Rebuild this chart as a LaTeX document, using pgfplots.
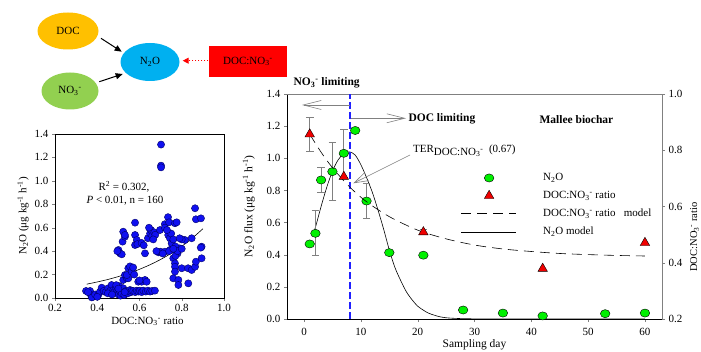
\documentclass[border=0pt]{standalone}
\usepackage{fontspec}
\setmainfont{Liberation Serif}
\usepackage{pgfplots}
\pgfplotsset{compat=1.18}
\usetikzlibrary{arrows.meta}
\definecolor{docc}{HTML}{FFC000}
\definecolor{noc}{HTML}{92D050}
\definecolor{ntoc}{HTML}{00B0F0}
\definecolor{mygreen}{HTML}{00F000}
\definecolor{myred}{HTML}{F00000}
\definecolor{myblue}{HTML}{1010F0}
\definecolor{dashblue}{HTML}{2020FF}
\newcommand{\nothree}{NO\textsubscript{3}\textsuperscript{-}}
\newcommand{\ntwoo}{N\textsubscript{2}O}
\pgfplotsset{
  /pgf/number format/assume math mode=true,
  markleg/.style={legend image code/.code={\path[draw=none] (0pt,0pt) -- (80pt,0pt); \path[##1, draw=none] (0pt,0pt); \pgfplotsset{##1}\draw[##1] plot[only marks] coordinates {(28pt,0pt)};}},
  lineleg/.style={legend image code/.code={\path[draw=none] (0pt,0pt) -- (80pt,0pt); \draw[##1] (0pt,0pt) -- (55pt,0pt);}},
  onedec/.style={/pgf/number format/.cd,fixed,fixed zerofill,precision=1},
}
\begin{document}
\begin{tikzpicture}[x=1pt,y=1pt,font=\fontsize{11}{13}\selectfont]
% ---------- diagram ----------
\fill[docc] (68,320) ellipse [x radius=30.5, y radius=18.5];
\node at (68,320) {DOC};
\fill[noc] (70,260) ellipse [x radius=28.5, y radius=18.5];
\node at (70,260) {\nothree};
\fill[ntoc] (150,289) ellipse [x radius=29.5, y radius=19];
\node at (150,289) {\ntwoo};
\fill[red] (209.3,273.7) rectangle (286.7,305.3);
\node at (248,289.5) {DOC:\nothree};
\draw[line width=1pt,-{Triangle[length=7pt,width=6pt]}] (101,312.7) -- (121.7,299.3);
\draw[line width=1pt,-{Triangle[length=7pt,width=6pt]}] (99.3,269.3) -- (122.7,277);
\draw[red, dotted, line width=1pt,-{Triangle[length=6pt,width=6pt]}] (208.3,290.3) -- (182.7,290.3);

% ---------- scatter ----------
\begin{axis}[at={(55pt,53pt)}, anchor=south west, scale only axis,
  width=169pt, height=164pt,
  xmin=0.2, xmax=1.0, ymin=0, ymax=1.4,
  xtick={0.2,0.4,0.6,0.8,1.0}, ytick={0,0.2,0.4,0.6,0.8,1.0,1.2,1.4},
  xticklabel style={onedec}, yticklabel style={onedec},
  tick align=outside, tick pos=left, major tick length=3pt,
  tick label style={font=\fontsize{11}{13}\selectfont},
  xlabel={DOC:\nothree\ ratio}, ylabel={\ntwoo\ (μg kg\textsuperscript{-1} h\textsuperscript{-1})},
  label style={font=\fontsize{11}{13}\selectfont},
  xlabel style={yshift=2pt, xshift=8pt}, ylabel style={yshift=-1pt},
  clip=false]
\addplot[only marks, mark=*, mark size=3.6pt, mark options={fill=myblue, draw=black!60!blue, line width=0.4pt}] coordinates {
(0.347,0.06)(0.366,0.06)(0.37,0.026)(0.38,0.011)(0.374,0.005)(0.356,0.05)(0.39,0.03)(0.405,0.026)
(0.413,0.054)(0.40,0.01)(0.421,0.088)(0.43,0.06)(0.44,0.05)(0.452,0.083)(0.46,0.06)(0.468,0.111)
(0.476,0.068)(0.48,0.05)(0.489,0.088)(0.495,0.062)(0.50,0.03)(0.505,0.10)(0.508,0.054)(0.51,0.02)
(0.516,0.04)(0.523,0.083)(0.528,0.026)(0.535,0.06)(0.54,0.054)(0.545,0.04)(0.555,0.068)(0.56,0.05)
(0.563,0.063)(0.57,0.06)(0.58,0.05)(0.587,0.063)(0.595,0.055)(0.602,0.063)(0.61,0.05)(0.618,0.063)
(0.63,0.055)(0.64,0.063)(0.65,0.055)(0.66,0.06)(0.673,0.063)(0.45,0.04)(0.47,0.03)(0.49,0.11)(0.53,0.05)(0.5,0.08)
(0.523,0.154)(0.531,0.196)(0.54,0.168)(0.547,0.254)(0.547,0.168)(0.54,0.196)(0.555,0.27)(0.563,0.225)
(0.57,0.26)(0.575,0.20)(0.594,0.139)(0.61,0.139)(0.626,0.154)(0.634,0.139)(0.60,0.15)
(0.50,0.41)(0.508,0.381)(0.516,0.373)(0.495,0.40)(0.52,0.481)(0.531,0.523)(0.523,0.566)(0.531,0.538)
(0.579,0.643)(0.579,0.538)(0.587,0.495)(0.579,0.452)(0.59,0.46)(0.626,0.381)(0.61,0.47)(0.62,0.45)
(0.64,0.51)(0.65,0.55)(0.655,0.58)(0.66,0.53)(0.67,0.56)(0.675,0.54)(0.645,0.60)(0.665,0.50)
(0.69,0.39)(0.70,0.395)(0.72,0.395)(0.744,0.41)(0.697,0.58)(0.735,0.69)
(0.72,0.63)(0.74,0.646)(0.768,0.638)(0.776,0.646)
(0.736,0.538)(0.744,0.51)(0.752,0.467)(0.776,0.395)(0.79,0.424)(0.815,0.495)
(0.76,0.339)(0.768,0.296)(0.768,0.267)(0.768,0.225)(0.76,0.168)(0.784,0.154)(0.784,0.111)(0.831,0.125)
(0.80,0.254)(0.83,0.254)(0.847,0.239)(0.863,0.267)(0.867,0.31)(0.894,0.339)(0.894,0.438)(0.89,0.43)(0.847,0.51)
(0.863,0.766)(0.867,0.672)(0.891,0.68)
(0.702,1.31)(0.702,1.13)(0.702,1.115)
(0.72,0.60)(0.75,0.55)(0.76,0.50)(0.77,0.44)(0.78,0.38)(0.80,0.50)(0.79,0.51)(0.74,0.40)(0.71,0.38)
(0.68,0.40)(0.73,0.58)(0.77,0.36)(0.78,0.40)(0.76,0.42)(0.8,0.42)
};
\addplot[black, line width=0.6pt, smooth] coordinates {
(0.35,0.118)(0.40,0.137)(0.45,0.158)(0.50,0.183)(0.55,0.212)(0.60,0.245)
(0.65,0.284)(0.70,0.329)(0.75,0.381)(0.80,0.441)(0.85,0.511)(0.90,0.591)};
\end{axis}
\node at (124,164) {R\textsuperscript{2} = 0.302,};
\node at (125,150) {\textit{P} < 0.01, n = 160};

% ---------- main axis (left) ----------
\begin{axis}[at={(287pt,32pt)}, anchor=south west, scale only axis,
  width=375pt, height=225pt,
  xmin=-3, xmax=63, ymin=0, ymax=1.4,
  axis x line*=bottom, axis y line*=left, axis line style={-},
  xtick={0,10,20,30,40,50,60}, ytick={0,0.2,0.4,0.6,0.8,1.0,1.2,1.4},
  yticklabel style={onedec}, xticklabel style={yshift=-3pt},
  tick align=outside, major tick length=3pt,
  tick label style={font=\fontsize{11}{13}\selectfont},
  xlabel={Sampling day}, ylabel={\ntwoo\ flux (μg kg\textsuperscript{-1} h\textsuperscript{-1})},
  label style={font=\fontsize{11.5}{13}\selectfont},
  xlabel style={yshift=3pt}, ylabel style={yshift=5pt}]
\addplot[black, line width=0.6pt, smooth] coordinates {
(1.5,0.52)(2,0.57)(3,0.70)(4,0.82)(5,0.92)(6,0.99)(7,1.03)(8,1.04)(9,1.02)(10,0.96)
(11,0.88)(12,0.79)(13,0.68)(14,0.56)(15,0.43)(16,0.32)(17,0.24)(18,0.17)(19,0.12)(20,0.08)
(21,0.055)(22,0.035)(24,0.013)(26,0.005)(30,0.001)(40,0)(60,0)};
\addplot[only marks, mark=*, mark size=4.3pt, mark options={fill=mygreen, draw=black, line width=0.4pt, xscale=1.12, yscale=0.95},
  error bars/.cd, y dir=both, y explicit,
  error bar style={gray, line width=0.7pt},
  error mark options={gray, rotate=90, mark size=3.8pt, line width=0.7pt}]
  coordinates {(2,0.533) +- (0,0.14) (3,0.865) +- (0,0.08) (5,0.917) +- (0,0.18) (7,1.031) +- (0,0.15) (11,0.734) +- (0,0.107)};
\addplot[only marks, mark=*, mark size=4.3pt, mark options={fill=mygreen, draw=black, line width=0.4pt, xscale=1.12, yscale=0.95}]
  coordinates {(1,0.467)(9,1.173)(15,0.413)(21,0.397)(28,0.056)(35,0.037)(42,0.019)(53,0.033)(60,0.037)};
\end{axis}

% ---------- main axis (right) ----------
\begin{axis}[at={(287pt,32pt)}, anchor=south west, scale only axis,
  width=375pt, height=225pt,
  xmin=-3, xmax=63, ymin=0.2, ymax=1.0,
  axis x line*=top, axis y line*=right, axis line style={-, gray, line width=0.8pt},
  xtick=\empty, ytick={0.2,0.4,0.6,0.8,1.0}, yticklabel style={onedec},
  tick align=outside, major tick length=3pt, major tick style={gray},
  tick label style={font=\fontsize{11}{13}\selectfont},
  legend cell align=left,
  legend style={draw=none, fill=none, at={(0.455,0.665)}, anchor=north west,
    row sep=5pt, font=\fontsize{11}{13}\selectfont}]
\addlegendimage{only marks, mark=*, mark size=4.3pt, mark options={fill=mygreen, draw=black, line width=0.4pt, xscale=1.12, yscale=0.95}, markleg}
\addlegendentry{\ntwoo}
\addlegendimage{only marks, mark=triangle*, mark size=5.5pt, mark options={fill=myred, draw=black, line width=0.4pt}, markleg}
\addlegendentry{DOC:\nothree\ ratio}
\addlegendimage{lineleg, black, line width=0.6pt, dash pattern=on 10pt off 6pt}
\addlegendentry{DOC:\nothree\ ratio\ \ \ model}
\addlegendimage{lineleg, black, line width=0.6pt}
\addlegendentry{\ntwoo\ model}
\addplot[forget plot, color=dashblue, line width=2pt, dash pattern=on 7pt off 3pt] coordinates {(8,0.2) (8,1.0)};
\addplot[forget plot, black, line width=0.6pt, dash pattern=on 10pt off 6pt, smooth] coordinates {
(1,0.857)(3,0.793)(5,0.738)(8,0.670)(11,0.617)(15,0.564)(20,0.516)(25,0.485)(30,0.463)
(35,0.449)(40,0.440)(45,0.433)(50,0.429)(55,0.426)(60,0.424)};
\addplot[forget plot, only marks, mark=triangle*, mark size=5.5pt, mark options={fill=myred, draw=black, line width=0.4pt},
  error bars/.cd, y dir=both, y explicit,
  error bar style={gray, line width=0.7pt},
  error mark options={gray, rotate=90, mark size=3.8pt, line width=0.7pt}]
  coordinates {(1,0.857) +- (0,0.06) (21,0.509) +- (0,0.008)};
\addplot[forget plot, only marks, mark=triangle*, mark size=5.5pt, mark options={fill=myred, draw=black, line width=0.4pt}]
  coordinates {(7,0.706)(42,0.379)(60,0.471)};
\end{axis}

% ---------- annotations ----------
\node[anchor=west, font=\bfseries\fontsize{11.5}{13}\selectfont] at (290,268) {\nothree\ limiting};
\node[anchor=west, font=\bfseries\fontsize{11.5}{13}\selectfont] at (405,232.7) {DOC limiting};
\node[anchor=west, font=\bfseries\fontsize{11.5}{13}\selectfont] at (536,231.7) {Mallee biochar};
\draw[gray, line width=0.6pt, -{Straight Barb[length=18pt,width=9pt]}] (350,246) -- (302,246);
\draw[gray, line width=0.6pt, -{Straight Barb[length=18pt,width=9pt]}] (351,232.7) -- (406,232.7);
\node[anchor=west, inner sep=0pt] at (413,200) {TER\raisebox{-0.45ex}{DOC:\nothree}\ \ (0.67)};
\draw[gray, line width=0.6pt, -{Straight Barb[length=14pt,width=9pt]}] (410,196) -- (353.3,167.7);
\node[rotate=90, anchor=north, inner sep=0pt, font=\fontsize{10.5}{12}\selectfont] at (690,114) {DOC:\nothree\ ratio};

\pgfresetboundingbox
\path[use as bounding box] (0,0) rectangle (701,351);
\end{tikzpicture}
\end{document}
